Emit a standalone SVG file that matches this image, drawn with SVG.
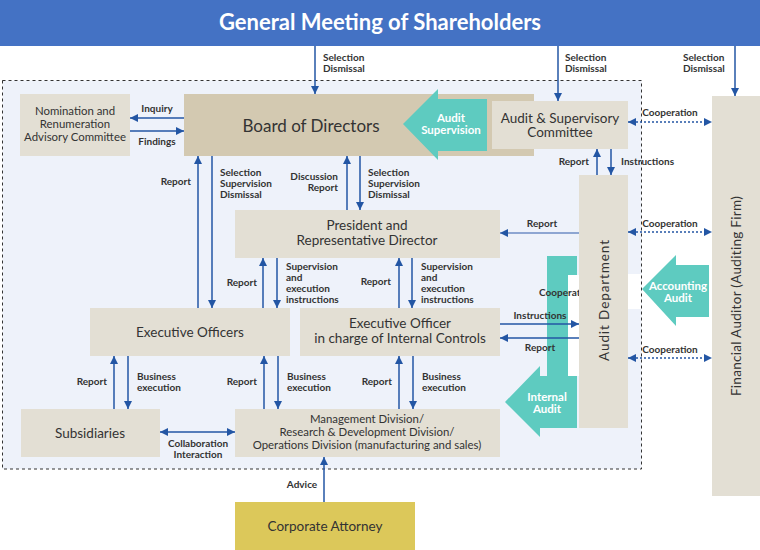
<svg xmlns="http://www.w3.org/2000/svg" width="760" height="550" viewBox="0 0 760 550">
<defs>
<marker id="ah" viewBox="0 0 10 10" refX="10" refY="5" markerWidth="8" markerHeight="8" markerUnits="userSpaceOnUse" orient="auto-start-reverse">
<path d="M0,0 L10,5 L0,10 z" fill="#2356a4"/>
</marker>
<marker id="ahl" viewBox="0 0 10 10" refX="10" refY="5" markerWidth="8" markerHeight="8" markerUnits="userSpaceOnUse" orient="auto-start-reverse">
<path d="M0,0 L10,5 L0,10 z" fill="#2356a4"/>
</marker>
</defs>
<style>
text{font-family:Lato,"Noto Sans",sans-serif;}
.box{fill:#e3dfd4;}
.bt{font-size:13.5px;fill:#333;text-anchor:middle;}
.st{font-size:11.4px;}
.lb{font-size:10px;font-weight:bold;fill:#333;}
.wt{font-size:11.5px;font-weight:bold;fill:#fff;text-anchor:middle;}
.ar{stroke:#2356a4;stroke-width:1.5;fill:none;marker-end:url(#ah);}
.arl{stroke:#8ea6d2;stroke-width:2;fill:none;marker-end:url(#ahl);}
.co{stroke:#2356a4;stroke-width:1.5;fill:none;stroke-dasharray:2 2;marker-start:url(#ah);marker-end:url(#ah);}
.teal{fill:#5ecbc0;}
</style>
<rect width="760" height="550" fill="#fff"/>
<g id="shareholders">
<rect x="0" y="0" width="760" height="46" fill="#4472c4"/>
<text x="380" y="30" font-size="22" font-weight="bold" fill="#fff" text-anchor="middle">General Meeting of Shareholders</text>
</g>
<rect id="container" x="2.5" y="80.5" width="639" height="388.5" fill="#eef2fa" stroke="#333" stroke-width="1" stroke-dasharray="3 3"/>
<g id="accounting-audit">
<rect x="627" y="274" width="14" height="35" fill="#fff"/>
<path class="teal" d="M642,289 L676,255 L676,265 L709,265 L709,317 L676,317 L676,326 z"/>
<text class="wt" x="678" y="289.5">Accounting</text>
<text class="wt" x="678" y="302">Audit</text>
</g>
<g id="board">
<rect x="184" y="94" width="350" height="62" fill="#d3c9b1"/>
<text x="311" y="132" font-size="17" fill="#333" text-anchor="middle">Board of Directors</text>
</g>
<g id="audit-supervision">
<path class="teal" d="M403,124 L438,89 L438,99 L487,99 L487,151 L438,151 L438,160 z"/>
<text class="wt" x="451" y="121.5">Audit</text>
<text class="wt" x="451" y="134">Supervision</text>
</g>
<g id="audit-committee">
<rect class="box" x="492" y="101" width="136" height="48"/>
<text class="bt" x="560" y="123">Audit &amp; Supervisory</text>
<text class="bt" x="560" y="137">Committee</text>
</g>
<g id="nomination">
<rect class="box" x="20" y="94" width="110" height="62"/>
<text class="bt st" x="75" y="115">Nomination and</text>
<text class="bt st" x="75" y="128">Renumeration</text>
<text class="bt st" x="75" y="141">Advisory Committee</text>
</g>
<g id="president">
<rect class="box" x="235" y="210" width="265" height="48"/>
<text class="bt" x="367" y="230">President and</text>
<text class="bt" x="367" y="245">Representative Director</text>
</g>
<g id="executive-officers">
<rect class="box" x="90" y="308" width="200" height="48"/>
<text class="bt" x="190" y="337">Executive Officers</text>
</g>
<g id="internal-controls-officer">
<rect class="box" x="300" y="308" width="200" height="48"/>
<text class="bt" x="400" y="328">Executive Officer</text>
<text class="bt" x="400" y="343">in charge of Internal Controls</text>
</g>
<g id="subsidiaries">
<rect class="box" x="21" y="409" width="139" height="48"/>
<text class="bt" x="90" y="438">Subsidiaries</text>
</g>
<g id="divisions">
<rect class="box" x="235" y="409" width="265" height="48"/>
<text class="bt st" x="367" y="423">Management Division/</text>
<text class="bt st" x="367" y="436">Research &amp; Development Division/</text>
<text class="bt st" x="367" y="449">Operations Division (manufacturing and sales)</text>
</g>
<g id="attorney">
<rect x="235" y="502" width="180" height="48" fill="#dcc85a"/>
<text class="bt" x="325" y="531">Corporate Attorney</text>
</g>
<g id="internal-audit">
<path class="teal" d="M547,256 L577,256 L577,275 L568,275 L568,376 L577,376 L577,428 L540,428 L540,437 L505,402 L540,366 L540,376 L547,376 z"/>
<rect x="568" y="275" width="11" height="101" fill="#fff"/>
<text class="lb" x="539" y="296">Cooperation</text>
<text class="wt" x="547" y="400.5">Internal</text>
<text class="wt" x="547" y="413">Audit</text>
</g>
<g id="audit-department">
<rect class="box" x="579" y="175" width="49" height="253"/>
<text class="bt" transform="translate(608.5,300) rotate(-90)" letter-spacing="0.9">Audit Department</text>
</g>
<g id="financial-auditor">
<rect class="box" x="712" y="96" width="48" height="400"/>
<text class="bt" transform="translate(740.5,296) rotate(-90)" letter-spacing="0.3">Financial Auditor (Auditing Firm)</text>
</g>
<g id="connectors">
<line class="ar" x1="315" y1="46" x2="315" y2="94"/>
<line class="ar" x1="558" y1="46" x2="558" y2="101"/>
<line class="ar" x1="735" y1="46" x2="735" y2="96"/>
<line class="ar" x1="184" y1="118" x2="130" y2="118"/>
<line class="ar" x1="130" y1="131" x2="184" y2="131"/>
<line class="ar" x1="198" y1="308" x2="198" y2="156"/>
<line class="ar" x1="212" y1="156" x2="212" y2="308"/>
<line class="ar" x1="347" y1="210" x2="347" y2="156"/>
<line class="ar" x1="360" y1="156" x2="360" y2="210"/>
<line class="ar" x1="263" y1="308" x2="263" y2="258"/>
<line class="ar" x1="277" y1="258" x2="277" y2="308"/>
<line class="ar" x1="399" y1="308" x2="399" y2="258"/>
<line class="ar" x1="412" y1="258" x2="412" y2="308"/>
<line class="ar" x1="114" y1="409" x2="114" y2="356"/>
<line class="ar" x1="128" y1="356" x2="128" y2="409"/>
<line class="ar" x1="264" y1="409" x2="264" y2="356"/>
<line class="ar" x1="278" y1="356" x2="278" y2="409"/>
<line class="ar" x1="399" y1="409" x2="399" y2="356"/>
<line class="ar" x1="413" y1="356" x2="413" y2="409"/>
<line class="ar" x1="160" y1="432" x2="235" y2="432" marker-start="url(#ah)"/>
<line class="ar" x1="324" y1="502" x2="324" y2="457"/>
<line class="ar" x1="500" y1="324" x2="579" y2="324"/>
<line class="ar" x1="579" y1="338" x2="500" y2="338"/>
<line class="arl" x1="579" y1="233" x2="500" y2="233"/>
<line class="ar" x1="597" y1="175" x2="597" y2="149"/>
<line class="ar" x1="611" y1="149" x2="611" y2="175"/>
<line class="co" x1="628" y1="122" x2="712" y2="122"/>
<line class="co" x1="628" y1="232" x2="712" y2="232"/>
<line class="co" x1="628" y1="358" x2="712" y2="358"/>
</g>
<g id="labels">
<text class="lb" x="323" y="61">Selection</text>
<text class="lb" x="323" y="72">Dismissal</text>
<text class="lb" x="565" y="61">Selection</text>
<text class="lb" x="565" y="72">Dismissal</text>
<text class="lb" x="683" y="61">Selection</text>
<text class="lb" x="683" y="72">Dismissal</text>
<text class="lb" x="157" y="112" text-anchor="middle">Inquiry</text>
<text class="lb" x="157" y="145" text-anchor="middle">Findings</text>
<text class="lb" x="191" y="185" text-anchor="end">Report</text>
<text class="lb" x="220" y="176">Selection</text>
<text class="lb" x="220" y="187">Supervision</text>
<text class="lb" x="220" y="198">Dismissal</text>
<text class="lb" x="338" y="180" text-anchor="end">Discussion</text>
<text class="lb" x="338" y="191" text-anchor="end">Report</text>
<text class="lb" x="368" y="176">Selection</text>
<text class="lb" x="368" y="187">Supervision</text>
<text class="lb" x="368" y="198">Dismissal</text>
<text class="lb" x="257" y="286" text-anchor="end">Report</text>
<text class="lb" x="286" y="270">Supervision</text>
<text class="lb" x="286" y="281"> and</text>
<text class="lb" x="286" y="292">execution</text>
<text class="lb" x="286" y="303">instructions</text>
<text class="lb" x="391" y="285" text-anchor="end">Report</text>
<text class="lb" x="421" y="270">Supervision</text>
<text class="lb" x="421" y="281">and</text>
<text class="lb" x="421" y="292">execution</text>
<text class="lb" x="421" y="303">instructions</text>
<text class="lb" x="107" y="385" text-anchor="end">Report</text>
<text class="lb" x="137" y="380">Business</text>
<text class="lb" x="137" y="391">execution</text>
<text class="lb" x="257" y="385" text-anchor="end">Report</text>
<text class="lb" x="287" y="380">Business</text>
<text class="lb" x="287" y="391">execution</text>
<text class="lb" x="392" y="385" text-anchor="end">Report</text>
<text class="lb" x="422" y="380">Business</text>
<text class="lb" x="422" y="391">execution</text>
<text class="lb" x="198" y="447" text-anchor="middle">Collaboration</text>
<text class="lb" x="198" y="458" text-anchor="middle">Interaction</text>
<text class="lb" x="302" y="488" text-anchor="middle">Advice</text>
<text class="lb" x="540" y="319" text-anchor="middle">Instructions</text>
<text class="lb" x="540" y="351" text-anchor="middle">Report</text>
<text class="lb" x="542" y="227" text-anchor="middle">Report</text>
<text class="lb" x="589" y="165" text-anchor="end">Report</text>
<text class="lb" x="621" y="165">Instructions</text>
<text class="lb" x="670" y="116" text-anchor="middle">Cooperation</text>
<text class="lb" x="670" y="227" text-anchor="middle">Cooperation</text>
<text class="lb" x="670" y="353" text-anchor="middle">Cooperation</text>
</g>
</svg>
